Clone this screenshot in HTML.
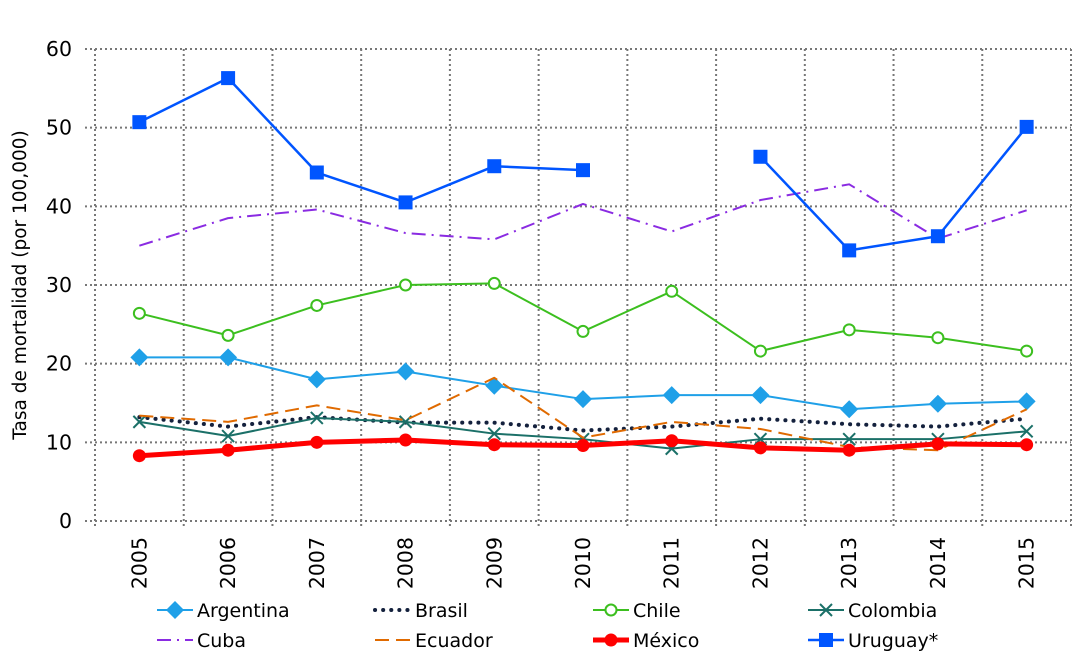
<!DOCTYPE html>
<html><head><meta charset="utf-8"><style>
body{margin:0;background:#fff;}
svg{display:block;font-family:"DejaVu Sans","Liberation Sans",sans-serif;}
</style></head><body>
<svg id="chart" width="1080" height="670" viewBox="0 0 1080 670" xmlns="http://www.w3.org/2000/svg">
<g id="grid"></g>
<g id="axes"></g>
<g id="series"></g>
<g id="legend"></g>
<text transform="translate(26,285) rotate(-90)" text-anchor="middle" font-size="18.5" fill="#000">Tasa de mortalidad (por 100,000)</text>
</svg>
<script>
const years = ["2005","2006","2007","2008","2009","2010","2011","2012","2013","2014","2015"];
const yTicks = [0,10,20,30,40,50,60];
const argentina = [20.8,20.8,18.0,19.0,17.2,15.5,16.0,16.0,14.2,14.9,15.2];
const brasil = [13.2,12.0,13.2,12.5,12.5,11.5,12.0,13.0,12.3,12.0,13.0];
const chile = [26.4,23.6,27.4,30.0,30.2,24.1,29.2,21.6,24.3,23.3,21.6];
const colombia = [12.6,10.8,13.1,12.6,11.1,10.4,9.2,10.4,10.4,10.4,11.4];
const cuba = [35.0,38.5,39.6,36.6,35.8,40.3,36.8,40.8,42.8,35.9,39.5];
const ecuador = [13.4,12.6,14.7,12.8,18.2,10.6,12.6,11.7,9.4,9.0,14.2];
const mexico = [8.3,9.0,10.0,10.3,9.7,9.6,10.2,9.3,9.0,9.8,9.7];
const uruguay = [50.7,56.3,44.3,40.5,45.1,44.6,null,46.3,34.4,36.2,50.1];

const NS="http://www.w3.org/2000/svg";
const L=95,R=1071,T=49,B=521,YMAX=60;
const bw=(R-L)/years.length;
const xs=i=>L+bw*(i+0.5);
const ys=v=>B-(v/YMAX)*(B-T);
function mk(tag,attrs,parent){const e=document.createElementNS(NS,tag);for(const k in attrs)e.setAttribute(k,attrs[k]);parent.appendChild(e);return e;}
const grid=document.getElementById('grid'),axes=document.getElementById('axes'),ser=document.getElementById('series'),leg=document.getElementById('legend');
const gs={stroke:"#777","stroke-width":2,"stroke-dasharray":"2,3"};
yTicks.forEach(t=>{
 const l=mk('line',Object.assign({x1:L-10,x2:R,y1:ys(t),y2:ys(t)},gs),grid);
 
 
 const tx=mk('text',{x:72,y:ys(t)+7,"text-anchor":"end","font-size":20.5,fill:"#000"},axes);
 tx.textContent=t;
 
 
});
for(let i=0;i<=years.length;i++){
 const x=L+bw*i;
 const l=mk('line',Object.assign({x1:x,x2:x,y1:T,y2:B+8},gs),grid);
 
 
}
years.forEach((y,i)=>{
 const tx=mk('text',{transform:`translate(${xs(i)+7},537) rotate(-90)`,"text-anchor":"end","font-size":20.5,fill:"#000"},axes);
 tx.textContent=y;
 
 
});
const defs=[
 {name:"Argentina",d:argentina,c:"#1fa0e8",w:2,dash:null,m:"diamond"},
 {name:"Brasil",d:brasil,c:"#14213d",w:4,dash:"0.1,8",cap:"round",m:null},
 {name:"Chile",d:chile,c:"#3cbf1f",w:2,dash:null,m:"circle"},
 {name:"Colombia",d:colombia,c:"#1b7068",w:2,dash:null,m:"x"},
 {name:"Cuba",d:cuba,c:"#8a2be2",w:2,dash:"14,6,2,6",m:null},
 {name:"Ecuador",d:ecuador,c:"#e06a00",w:2,dash:"14,7",m:null},
 {name:"México",d:mexico,c:"#ff0000",w:5,dash:null,m:"dot"},
 {name:"Uruguay*",d:uruguay,c:"#0055ff",w:2.5,dash:null,m:"square"}
];
function marker(m,x,y,c,p){
 let e;
 if(m==="diamond")e=mk('path',{d:`M${x},${y-9}L${x+9},${y}L${x},${y+9}L${x-9},${y}Z`,fill:c},p);
 else if(m==="circle")e=mk('circle',{cx:x,cy:y,r:5.5,fill:"#fff",stroke:c,"stroke-width":2},p);
 else if(m==="x")e=mk('path',{d:`M${x-6},${y-6}L${x+6},${y+6}M${x-6},${y+6}L${x+6},${y-6}`,stroke:c,"stroke-width":2},p);
 else if(m==="dot")e=mk('circle',{cx:x,cy:y,r:6.5,fill:c},p);
 else if(m==="square")e=mk('rect',{x:x-7,y:y-7,width:14,height:14,fill:c},p);
 return e;
}
defs.forEach((s,k)=>{
 const g=mk('g',{},ser);
 
 
 let segs=[],cur=[];
 s.d.forEach((v,i)=>{if(v==null){if(cur.length)segs.push(cur);cur=[];}else cur.push([xs(i),ys(v)]);});
 if(cur.length)segs.push(cur);
 segs.forEach(sg=>{
  const a={points:sg.map(p=>p.join(',')).join(' '),fill:"none",stroke:s.c,"stroke-width":s.w,"stroke-linejoin":"round"};
  if(s.dash)a["stroke-dasharray"]=s.dash;
  if(s.cap)a["stroke-linecap"]=s.cap;
  const pl=mk('polyline',a,g);
  
  
 });
 if(s.m)s.d.forEach((v,i)=>{if(v==null)return;const e=marker(s.m,xs(i),ys(v),s.c,g);
  
  });
 const col=k%4,row=Math.floor(k/4);
 const lx=[157,375,593,808][col],ly=610+row*30;
 const lg=mk('g',{},leg);
 
 
 const la={x1:lx,x2:lx+36,y1:ly,y2:ly,stroke:s.c,"stroke-width":s.w};
 if(s.dash)la["stroke-dasharray"]=s.dash;
 if(s.cap)la["stroke-linecap"]=s.cap;
 mk('line',la,lg);
 if(s.m)marker(s.m,lx+18,ly,s.c,lg);
 const t=mk('text',{x:lx+40,y:ly+7,"font-size":19,fill:"#000"},lg);
 t.textContent=s.name;
});
</script>
</body></html>
